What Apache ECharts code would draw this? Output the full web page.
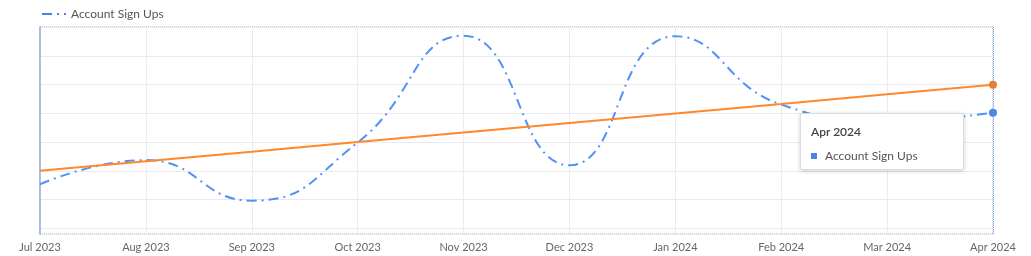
<!DOCTYPE html>
<html>
<head>
<meta charset="utf-8">
<script src="https://cdn.jsdelivr.net/npm/echarts@6/dist/echarts.min.js"></script>
<style>
html,body{margin:0;padding:0;background:#fff;}
#c{width:1031px;height:256px;}
</style>
</head>
<body>
<div id="c"></div>
<script>
const categories = ['Jul 2023','Aug 2023','Sep 2023','Oct 2023','Nov 2023','Dec 2023','Jan 2024','Feb 2024','Mar 2024','Apr 2024'];
const signUps = [153, 237, 96, 298, 670, 219, 668, 430, 374, 402];
const trend = [200, 233, 266, 300, 333, 366, 399, 432, 466, 499];
const seriesName = 'Account Sign Ups';

const chart = echarts.init(document.getElementById('c'));
const FONT = 'Lato, "Noto Sans", sans-serif';
chart.setOption({
  animation: false,
  textStyle: { fontFamily: FONT },
  legend: {
    data: [seriesName],
    left: 36, top: 3,
    itemWidth: 24, itemHeight: 10, itemGap: 5,
    itemStyle: { opacity: 0 },
    textStyle: { color: '#555', fontSize: 12, fontFamily: FONT }
  },
  grid: {
    left: 40, right: 38, top: 27, bottom: 22,
    show: true, borderColor: '#7b9ddb', borderWidth: 1, borderType: 'dotted'
  },
  tooltip: {
    trigger: 'axis',
    position: [800, 113],
    backgroundColor: '#fff',
    borderColor: '#ddd',
    borderWidth: 1,
    padding: [10, 10],
    extraCssText: 'box-shadow:0 1px 4px rgba(0,0,0,0.2);border-radius:2px;width:142px;height:35px;',
    axisPointer: { type: 'line', lineStyle: { color: '#7b9ddb', type: 'dotted', width: 1 } },
    formatter: function (params) {
      const p = params[0];
      return '<div style="font-family:Lato,sans-serif;font-size:12px;color:#444;font-weight:600;line-height:14px;margin-top:1px">' + p.name + '</div>' +
        '<div style="font-family:Lato,sans-serif;font-size:12px;color:#555;line-height:14px;margin-top:10px">' +
        '<span style="display:inline-block;width:6px;height:6px;background:#4a84e3;margin-right:8px;vertical-align:1px"></span>' + seriesName + '</div>';
    }
  },
  xAxis: {
    type: 'category',
    data: categories,
    boundaryGap: false,
    axisLine: { show: false },
    axisTick: { show: false },
    axisLabel: { color: '#666', fontSize: 11, margin: 8, fontFamily: FONT },
    splitLine: { show: true, lineStyle: { color: '#ececf0' } }
  },
  yAxis: {
    type: 'value',
    min: -20, max: 700,
    splitNumber: 7,
    axisLine: { show: true, lineStyle: { color: '#97afdc', width: 1.5 } },
    axisTick: { show: false },
    axisLabel: { show: false },
    splitLine: { lineStyle: { color: '#e9e9ee' } }
  },
  series: [
    {
      name: seriesName,
      type: 'line',
      data: signUps,
      smooth: true,
      showSymbol: false,
      symbol: 'circle',
      symbolSize: 8,
      itemStyle: { color: '#4a84e3' },
      lineStyle: { color: '#4a84e3', width: 2, type: [10, 5, 2, 5] },
      emphasis: { scale: false }
    },
    {
      name: 'Trend',
      type: 'line',
      data: trend,
      showSymbol: false,
      symbol: 'circle',
      symbolSize: 8,
      itemStyle: { color: '#f07c27' },
      lineStyle: { color: '#f07c27', width: 2 },
      emphasis: { scale: false }
    }
  ]
});
chart.dispatchAction({ type: 'showTip', seriesIndex: 0, dataIndex: 9 });
</script>
</body>
</html>
